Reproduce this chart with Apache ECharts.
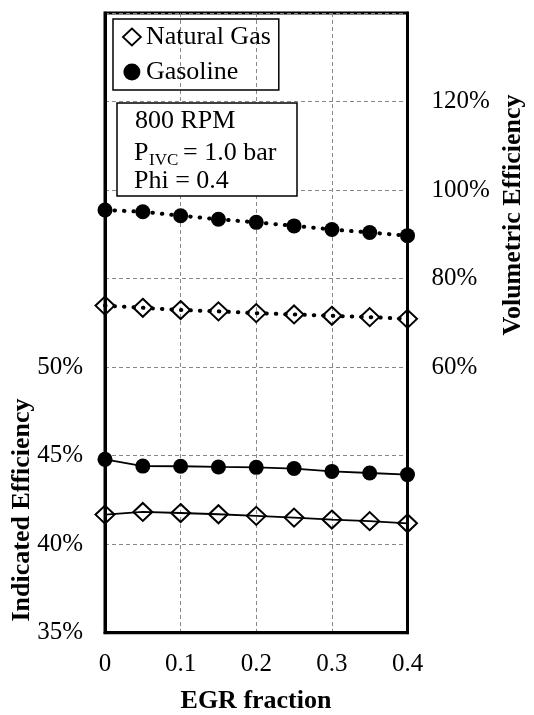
<!DOCTYPE html>
<html>
<head>
<meta charset="utf-8">
<script src="https://cdn.jsdelivr.net/npm/echarts@6/dist/echarts.min.js"></script>
<style>
  html, body { margin: 0; padding: 0; background: #fff; }
  #chart { width: 534px; height: 715px; }
</style>
</head>
<body>
<div id="chart"></div>
<script>
// EGR sweep at 800 RPM, P_IVC = 1.0 bar, Phi = 0.4
const egrFraction = [0, 0.05, 0.1, 0.15, 0.2, 0.25, 0.3, 0.35, 0.4];

// Indicated efficiency (%), left axis
const indEffNaturalGas = [41.67, 41.82, 41.76, 41.69, 41.60, 41.50, 41.39, 41.30, 41.18];
const indEffGasoline   = [44.79, 44.41, 44.40, 44.36, 44.34, 44.27, 44.11, 44.02, 43.93];

// Volumetric efficiency (%), right axis
const volEffNaturalGas = [73.9, 73.4, 72.9, 72.6, 72.2, 71.9, 71.6, 71.3, 70.9];
const volEffGasoline   = [95.5, 95.1, 94.2, 93.4, 92.7, 91.9, 91.1, 90.4, 89.7];

// Tick labels shown on each y axis
const leftTickLabels  = [35, 40, 45, 50];
const rightTickLabels = [60, 80, 100, 120];

const FONT = '"Liberation Serif", "Times New Roman", serif';

const pairs = (xs, ys) => xs.map((x, i) => [x, ys[i]]);

const diamondStyle = { color: 'rgba(0,0,0,0)', borderColor: '#000', borderWidth: 2 };
const dotStyle = { color: '#000' };
const dottedLine = { color: '#000', width: 4, type: [0.5, 9], cap: 'round' };
const solidLine = { color: '#000', width: 1.8 };

const chart = echarts.init(document.getElementById('chart'), null, { renderer: 'canvas' });

chart.setOption({
  animation: false,
  backgroundColor: '#fff',
  grid: {
    left: 105, right: 126.5, top: 13, bottom: 82.3,
    show: true, borderColor: '#000', borderWidth: 3, backgroundColor: 'transparent'
  },
  legend: {
    orient: 'vertical',
    left: 113, top: 19,
    borderColor: '#000', borderWidth: 1.5,
    padding: [5, 8, 5, 9],
    itemGap: 9,
    itemWidth: 18, itemHeight: 17,
    textStyle: { fontFamily: FONT, fontSize: 26, color: '#000' },
    data: [
      { name: 'Natural Gas', icon: 'diamond', itemStyle: { color: 'rgba(0,0,0,0)', borderColor: '#000', borderWidth: 1.8 } },
      { name: 'Gasoline', icon: 'circle', itemStyle: { color: '#000', borderWidth: 0 } }
    ],
    selectedMode: false
  },
  xAxis: {
    type: 'value', min: 0, max: 0.4, interval: 0.1,
    axisLine: { show: true, lineStyle: { color: '#000', width: 3 } },
    axisTick: { show: false },
    axisLabel: { fontFamily: FONT, fontSize: 25, color: '#000', margin: 19,
      formatter: v => (v === 0 ? '0' : v.toFixed(1)) },
    splitLine: { show: true, lineStyle: { color: '#888', type: [4, 3], width: 1 } }
  },
  yAxis: [
    {
      type: 'value', min: 35, max: 70, interval: 5, position: 'left',
      axisLine: { show: true, lineStyle: { color: '#000', width: 3 } },
      axisTick: { show: false },
      axisLabel: { fontFamily: FONT, fontSize: 25, color: '#000', margin: 22,
        formatter: v => (leftTickLabels.includes(v) ? v + '%' : '') },
      splitLine: { show: true, lineStyle: { color: '#888', type: [4, 3], width: 1 } }
    },
    {
      type: 'value', min: 0, max: 140, interval: 20, position: 'right',
      axisLine: { show: true, lineStyle: { color: '#000', width: 3 } },
      axisTick: { show: false },
      axisLabel: { fontFamily: FONT, fontSize: 25, color: '#000', margin: 24,
        formatter: v => (rightTickLabels.includes(v) ? v + '%' : '') },
      splitLine: { show: false }
    }
  ],
  series: [
    {
      name: 'Natural Gas', type: 'line', yAxisIndex: 1,
      data: pairs(egrFraction, volEffNaturalGas),
      symbol: 'diamond', symbolSize: [19, 18], itemStyle: diamondStyle, lineStyle: dottedLine, z: 3
    },
    {
      name: 'Gasoline', type: 'line', yAxisIndex: 1,
      data: pairs(egrFraction, volEffGasoline),
      symbol: 'circle', symbolSize: 15, itemStyle: dotStyle, lineStyle: dottedLine, z: 3
    },
    {
      name: 'Natural Gas', type: 'line', yAxisIndex: 0,
      data: pairs(egrFraction, indEffNaturalGas),
      symbol: 'diamond', symbolSize: [19, 18], itemStyle: diamondStyle, lineStyle: solidLine, z: 3
    },
    {
      name: 'Gasoline', type: 'line', yAxisIndex: 0,
      data: pairs(egrFraction, indEffGasoline),
      symbol: 'circle', symbolSize: 15, itemStyle: dotStyle, lineStyle: solidLine, z: 3
    }
  ],
  graphic: [
    // operating-condition box
    { type: 'rect', shape: { x: 117, y: 103, width: 180, height: 93 },
      style: { fill: '#fff', stroke: '#000', lineWidth: 1.5 }, z: 10 },
    { type: 'text', x: 135, y: 121, z: 11,
      style: { text: '800 RPM', font: '26px ' + FONT, fill: '#000', textVerticalAlign: 'middle' } },
    { type: 'text', x: 134, y: 153, z: 11,
      style: { text: 'P', font: '26px ' + FONT, fill: '#000', textVerticalAlign: 'middle' } },
    { type: 'text', x: 149, y: 161, z: 11,
      style: { text: 'IVC', font: '17px ' + FONT, fill: '#000', textVerticalAlign: 'middle' } },
    { type: 'text', x: 183, y: 153, z: 11,
      style: { text: '= 1.0 bar', font: '26px ' + FONT, fill: '#000', textVerticalAlign: 'middle' } },
    { type: 'text', x: 134, y: 181, z: 11,
      style: { text: 'Phi = 0.4', font: '26px ' + FONT, fill: '#000', textVerticalAlign: 'middle' } },
    // axis titles
    { type: 'text', x: 22, y: 510, rotation: Math.PI / 2, z: 11,
      style: { text: 'Indicated Efficiency', font: 'bold 26px ' + FONT, fill: '#000',
        textAlign: 'center', textVerticalAlign: 'middle' } },
    { type: 'text', x: 513, y: 215, rotation: Math.PI / 2, z: 11,
      style: { text: 'Volumetric Efficiency', font: 'bold 26px ' + FONT, fill: '#000',
        textAlign: 'center', textVerticalAlign: 'middle' } },
    { type: 'text', x: 256, y: 701, z: 11,
      style: { text: 'EGR fraction', font: 'bold 26px ' + FONT, fill: '#000',
        textAlign: 'center', textVerticalAlign: 'middle' } }
  ]
});
</script>
</body>
</html>
